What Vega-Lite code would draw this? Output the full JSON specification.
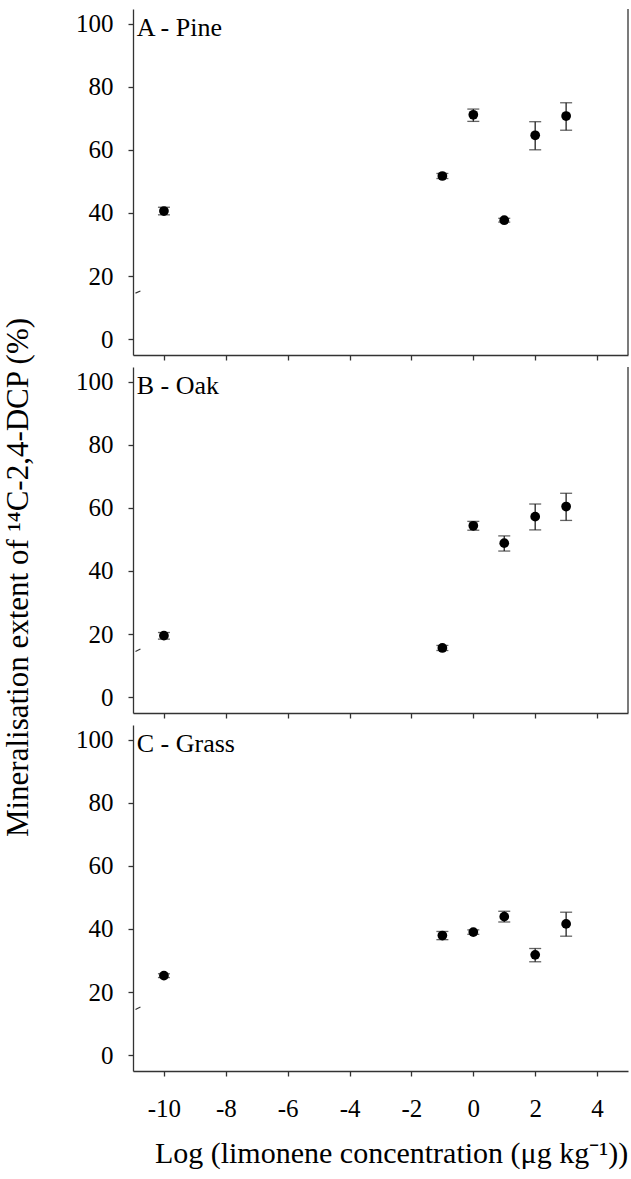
{
  "$schema": "https://vega.github.io/schema/vega-lite/v6.json",
  "padding": {"left": 2, "top": 8, "right": 2, "bottom": 3},
  "spacing": 12,
  "bounds": "flush",
  "config": {
    "font": "Liberation Serif",
    "view": {"stroke": null},
    "axis": {
      "grid": false,
      "domainColor": "#333333",
      "domainWidth": 1.3,
      "tickColor": "#333333",
      "tickWidth": 1.3,
      "tickSize": 5,
      "labelFont": "Liberation Serif",
      "labelFontSize": 25,
      "labelColor": "black",
      "titleFont": "Liberation Serif",
      "titleFontSize": 30,
      "titleFontWeight": "normal",
      "titleColor": "black"
    }
  },
  "datasets": {
    "pts": [
      {"panel": "A", "x": -10, "y": 40.6, "lo": 39.4, "hi": 41.8},
      {"panel": "A", "x": -1, "y": 51.7, "lo": 50.9, "hi": 52.5},
      {"panel": "A", "x": 0, "y": 71.1, "lo": 69.0, "hi": 72.9},
      {"panel": "A", "x": 1, "y": 37.7, "lo": 37.1, "hi": 38.3},
      {"panel": "A", "x": 2, "y": 64.6, "lo": 60.0, "hi": 68.9},
      {"panel": "A", "x": 3, "y": 70.7, "lo": 66.2, "hi": 74.9},
      {"panel": "B", "x": -10, "y": 19.5, "lo": 18.4, "hi": 20.5},
      {"panel": "B", "x": -1, "y": 15.6, "lo": 14.8, "hi": 16.4},
      {"panel": "B", "x": 0, "y": 54.3, "lo": 52.9, "hi": 55.7},
      {"panel": "B", "x": 1, "y": 48.8, "lo": 46.3, "hi": 51.1},
      {"panel": "B", "x": 2, "y": 57.2, "lo": 53.0, "hi": 61.2},
      {"panel": "B", "x": 3, "y": 60.4, "lo": 56.0, "hi": 64.6},
      {"panel": "C", "x": -10, "y": 25.2, "lo": 24.6, "hi": 25.8},
      {"panel": "C", "x": -1, "y": 37.9, "lo": 36.6, "hi": 39.2},
      {"panel": "C", "x": 0, "y": 39.0, "lo": 38.3, "hi": 39.7},
      {"panel": "C", "x": 1, "y": 43.9, "lo": 42.2, "hi": 45.6},
      {"panel": "C", "x": 2, "y": 31.8, "lo": 29.6, "hi": 33.8},
      {"panel": "C", "x": 3, "y": 41.6, "lo": 37.7, "hi": 45.3}
    ]
  },
  "vconcat": [
    {
      "width": 495,
      "height": 346,
      "layer": [
        {
          "data": {"name": "pts"},
          "transform": [{"filter": "datum.panel === 'A'"}],
          "mark": {"type": "errorbar", "ticks": true, "size": 12, "thickness": 1.3, "color": "#222222"},
          "encoding": {
            "x": {"field": "x", "type": "quantitative", "scale": {"domain": [-11, 5], "nice": false, "zero": false}, "axis": {"values": [-10, -8, -6, -4, -2, 0, 2, 4], "labels": false, "title": null}},
            "y": {"field": "lo", "type": "quantitative", "scale": {"domain": [-5, 104.6], "nice": false, "zero": false}, "axis": {"values": [0, 20, 40, 60, 80, 100], "labelPadding": 15, "title": null}},
            "y2": {"field": "hi"}
          }
        },
        {
          "data": {"name": "pts"},
          "transform": [{"filter": "datum.panel === 'A'"}],
          "mark": {"type": "point", "filled": true, "size": 95, "color": "black", "opacity": 1},
          "encoding": {
            "x": {"field": "x", "type": "quantitative"},
            "y": {"field": "y", "type": "quantitative"}
          }
        },
        {
          "data": {"values": [{}]},
          "mark": {"type": "rule", "color": "#333333", "strokeWidth": 1.3},
          "encoding": {"x": {"datum": 5}}
        },
        {
          "data": {"values": [{}]},
          "mark": {"type": "rule", "color": "#333333", "strokeWidth": 1.1},
          "encoding": {"x": {"datum": -10.92}, "x2": {"datum": -10.76}, "y": {"datum": 14.6}, "y2": {"datum": 15.3}}
        },
        {
          "data": {"values": [{"label": "A - Pine"}]},
          "mark": {"type": "text", "align": "left", "baseline": "alphabetic", "fontSize": 26, "color": "black"},
          "encoding": {"x": {"datum": -10.88}, "y": {"datum": 96}, "text": {"field": "label"}}
        }
      ]
    },
    {
      "width": 495,
      "height": 346,
      "layer": [
        {
          "data": {"name": "pts"},
          "transform": [{"filter": "datum.panel === 'B'"}],
          "mark": {"type": "errorbar", "ticks": true, "size": 12, "thickness": 1.3, "color": "#222222"},
          "encoding": {
            "x": {"field": "x", "type": "quantitative", "scale": {"domain": [-11, 5], "nice": false, "zero": false}, "axis": {"values": [-10, -8, -6, -4, -2, 0, 2, 4], "labels": false, "title": null}},
            "y": {"field": "lo", "type": "quantitative", "scale": {"domain": [-5, 104.6], "nice": false, "zero": false}, "axis": {"values": [0, 20, 40, 60, 80, 100], "labelPadding": 15, "title": "Mineralisation extent of ¹⁴C-2,4-DCP (%)", "titleFontSize": 31, "titlePadding": 41, "titleY": 210}},
            "y2": {"field": "hi"}
          }
        },
        {
          "data": {"name": "pts"},
          "transform": [{"filter": "datum.panel === 'B'"}],
          "mark": {"type": "point", "filled": true, "size": 95, "color": "black", "opacity": 1},
          "encoding": {
            "x": {"field": "x", "type": "quantitative"},
            "y": {"field": "y", "type": "quantitative"}
          }
        },
        {
          "data": {"values": [{}]},
          "mark": {"type": "rule", "color": "#333333", "strokeWidth": 1.3},
          "encoding": {"x": {"datum": 5}}
        },
        {
          "data": {"values": [{}]},
          "mark": {"type": "rule", "color": "#333333", "strokeWidth": 1.1},
          "encoding": {"x": {"datum": -10.92}, "x2": {"datum": -10.76}, "y": {"datum": 14.5}, "y2": {"datum": 15.3}}
        },
        {
          "data": {"values": [{"label": "B - Oak"}]},
          "mark": {"type": "text", "align": "left", "baseline": "alphabetic", "fontSize": 26, "color": "black"},
          "encoding": {"x": {"datum": -10.88}, "y": {"datum": 96}, "text": {"field": "label"}}
        }
      ]
    },
    {
      "width": 495,
      "height": 346,
      "layer": [
        {
          "data": {"name": "pts"},
          "transform": [{"filter": "datum.panel === 'C'"}],
          "mark": {"type": "errorbar", "ticks": true, "size": 12, "thickness": 1.3, "color": "#222222"},
          "encoding": {
            "x": {"field": "x", "type": "quantitative", "scale": {"domain": [-11, 5], "nice": false, "zero": false}, "axis": {"values": [-10, -8, -6, -4, -2, 0, 2, 4], "labelExpr": "replace(datum.label, '−', '-')", "labelPadding": 20, "title": "Log (limonene concentration (μg kg⁻¹))", "titlePadding": 17, "titleX": 258}},
            "y": {"field": "lo", "type": "quantitative", "scale": {"domain": [-5, 104.6], "nice": false, "zero": false}, "axis": {"values": [0, 20, 40, 60, 80, 100], "labelPadding": 15, "title": null}},
            "y2": {"field": "hi"}
          }
        },
        {
          "data": {"name": "pts"},
          "transform": [{"filter": "datum.panel === 'C'"}],
          "mark": {"type": "point", "filled": true, "size": 95, "color": "black", "opacity": 1},
          "encoding": {
            "x": {"field": "x", "type": "quantitative"},
            "y": {"field": "y", "type": "quantitative"}
          }
        },
        {
          "data": {"values": [{}]},
          "mark": {"type": "rule", "color": "#333333", "strokeWidth": 1.1},
          "encoding": {"x": {"datum": -10.92}, "x2": {"datum": -10.76}, "y": {"datum": 14.5}, "y2": {"datum": 15.3}}
        },
        {
          "data": {"values": [{"label": "C - Grass"}]},
          "mark": {"type": "text", "align": "left", "baseline": "alphabetic", "fontSize": 26, "color": "black"},
          "encoding": {"x": {"datum": -10.88}, "y": {"datum": 96}, "text": {"field": "label"}}
        }
      ]
    }
  ]
}
